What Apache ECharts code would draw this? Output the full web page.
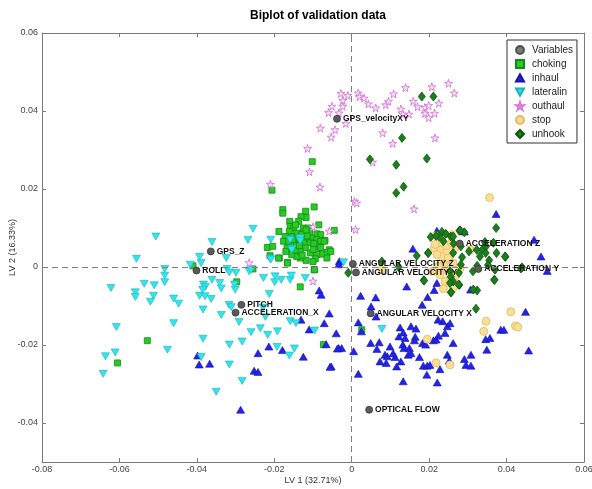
<!DOCTYPE html>
<html><head><meta charset="utf-8">
<script src="https://cdn.jsdelivr.net/npm/echarts@6/dist/echarts.min.js"></script>
<style>html,body{margin:0;padding:0;background:#fff}#c{width:592px;height:489px}</style>
</head><body><div id="c"></div>
<script>
const xTicks = [-0.08,-0.06,-0.04,-0.02,0,0.02,0.04,0.06];
const yTicks = [-0.04,-0.02,0,0.02,0.04,0.06];

const varNames = ['GPS_velocityXY','GPS_Z','ROLL','PITCH','ACCELERATION_X','ANGULAR VELOCITY Z','ANGULAR VELOCITY Y','ANGULAR VELOCITY X','OPTICAL FLOW','ACCELERATION Z','ACCELERATION Y'];
const varX = [-0.0038,-0.0364,-0.0401,-0.0285,-0.0300,0.0003,0.0011,0.0049,0.0045,0.0279,0.0327];
const varY = [0.0380,0.0040,-0.0009,-0.0097,-0.0117,0.0008,-0.0014,-0.0119,-0.0366,0.0060,-0.0005];

const choking = [
[-0.0102,0.0270],[-0.0206,0.0197],[-0.0097,0.0154],[-0.0178,0.0147],[-0.0178,0.0138],[-0.0119,0.0143],[-0.0118,0.0127],[-0.0131,0.0129],[-0.0160,0.0117],[-0.0137,0.0117],[-0.0085,0.0108],[-0.0045,0.0094],[-0.0188,0.0091],[-0.0218,0.0050],[-0.0204,0.0053],
[-0.0159,0.0104],[-0.0150,0.0100],[-0.0125,0.0100],[-0.0112,0.0100],[-0.0161,0.0091],[-0.0142,0.0087],[-0.0126,0.0087],[-0.0109,0.0087],[-0.0090,0.0085],[-0.0080,0.0083],[-0.0172,0.0078],[-0.0155,0.0078],[-0.0138,0.0074],[-0.0120,0.0074],[-0.0103,0.0074],[-0.0090,0.0070],[-0.0069,0.0068],[-0.0176,0.0066],[-0.0163,0.0066],[-0.0149,0.0062],[-0.0125,0.0062],[-0.0107,0.0062],[-0.0080,0.0066],[-0.0071,0.0066],[-0.0058,0.0044],[-0.0064,0.0037],[-0.0077,0.0033],[-0.0090,0.0032],[-0.0094,0.0021],[-0.0100,0.0014],[-0.0118,0.0017],[-0.0133,0.0023],[-0.0142,0.0027],[-0.0155,0.0032],[-0.0166,0.0012],[-0.0187,0.0023],[-0.0120,0.0049],[-0.0133,0.0040],[-0.0146,0.0044],[-0.0107,0.0036],[-0.0142,0.0057],[-0.0167,0.0049],[-0.0097,-0.0007],[-0.0064,0.0023],[-0.0086,0.0051],[-0.0129,0.0083],
[-0.0115,0.0080],[-0.0098,0.0060],[-0.0135,0.0055],[-0.0152,0.0070],[-0.0118,0.0095],[-0.0145,0.0108],[-0.0100,0.0045],[-0.0080,0.0050],[-0.0170,0.0040],[-0.0128,0.0030],
[-0.0410,0.0003],[-0.0255,-0.0005],[-0.0297,-0.0038],[-0.0133,-0.0051],[-0.0096,-0.0007],[-0.0189,0.0023],[-0.0211,0.0029],[-0.0166,0.0010],[-0.0528,-0.0189],[-0.0605,-0.0246],[-0.0073,-0.0199],[0.0026,-0.0161],[-0.0054,0.0040]
];

const inhaul = [
[0.0023,-0.0074],[0.0062,-0.0078],[0.0050,-0.0101],[0.0017,-0.0142],[0.0025,-0.0165],[0.0005,-0.0216],[0.0017,-0.0274],[-0.0034,-0.0208],[-0.0026,-0.0208],[-0.0053,-0.0255],[0.0049,-0.0195],[0.0071,-0.0193],[0.0063,-0.0127],[0.0099,-0.0204],[0.0065,-0.0210],[0.0086,-0.0225],[0.0092,-0.0229],[0.0073,-0.0242],[0.0089,-0.0246],[0.0112,-0.0231],
[0.0125,-0.0155],[0.0122,-0.0178],[0.0133,-0.0168],[0.0138,-0.0182],[0.0132,-0.0199],[0.0135,-0.0208],[0.0153,-0.0152],[0.0166,-0.0158],[0.0164,-0.0179],[0.0162,-0.0188],[0.0149,-0.0208],[0.0146,-0.0225],[0.0153,-0.0221],[0.0175,-0.0231],[0.0183,-0.0195],[0.0191,-0.0199],[0.0211,-0.0188],[0.0218,-0.0186],[0.0224,-0.0176],[0.0241,-0.0169],
[0.0247,-0.0152],[0.0235,-0.0139],[0.0262,-0.0195],[0.0133,-0.0293],[0.0194,-0.0276],[0.0221,-0.0296],[0.0185,-0.0253],[0.0195,-0.0253],[0.0202,-0.0251],[0.0228,-0.0262],[0.0116,-0.0255],[0.0127,-0.0242],[0.0252,-0.0240],[0.0291,-0.0236],[0.0295,-0.0251],[0.0308,-0.0253],[0.0308,-0.0225],[0.0349,-0.0212],[0.0346,-0.0185],[0.0357,-0.0182],
[0.0385,-0.0161],[0.0393,-0.0161],[0.0449,-0.0115],[0.0457,-0.0214],[0.0142,-0.0050],[0.0196,-0.0077],[0.0213,-0.0059],[0.0182,-0.0097],[0.0158,0.0047],[0.0220,-0.0041],[0.0307,-0.0058],[0.0489,0.0027],[0.0471,0.0070],[-0.0032,0.0015],[0.0247,-0.0225],[0.0254,-0.0144],[0.0223,-0.0135],[0.0107,-0.0221],
[0.0373,0.0136],[0.0220,0.0093],[0.0291,0.0091],[0.0505,-0.0010],
[-0.0033,0.0007],[-0.0084,-0.0060],[-0.0079,-0.0071],[-0.0058,-0.0119],[-0.0131,-0.0135],[-0.0071,-0.0144],[-0.0066,-0.0198],[-0.0037,-0.0209],[-0.0056,-0.0256],[-0.0214,-0.0204],[-0.0179,-0.0213],[-0.0242,-0.0221],[-0.0252,-0.0266],[-0.0242,-0.0269],[-0.0398,-0.0227],[-0.0394,-0.0250],[-0.0367,-0.0248],[-0.0287,-0.0366],
[-0.0110,-0.0160],[-0.0125,-0.0230],[-0.0040,-0.0170]
];

const lateralin = [
[-0.0506,0.0078],[-0.0556,0.0021],[-0.0622,-0.0054],[-0.0559,-0.0065],[-0.0559,-0.0077],[-0.0536,-0.0043],[-0.0510,-0.0047],[-0.0520,-0.0089],[-0.0512,-0.0074],[-0.0483,-0.0005],[-0.0483,-0.0022],[-0.0483,-0.0039],[-0.0460,-0.0081],[-0.0447,-0.0094],[-0.0460,-0.0144],[-0.0608,-0.0154],[-0.0611,-0.0219],[-0.0636,-0.0229],[-0.0642,-0.0274],[-0.0476,-0.0212],
[-0.0417,0.0006],[-0.0393,0.0026],[-0.0389,0.0010],[-0.0324,0.0023],[-0.0361,0.0064],[-0.0268,0.0069],[-0.0255,0.0098],[-0.0209,0.0070],[-0.0135,0.0072],[-0.0154,0.0047],[-0.0211,0.0021],[-0.0322,-0.0005],[-0.0316,-0.0014],[-0.0299,-0.0015],[-0.0361,-0.0033],[-0.0341,-0.0041],[-0.0337,-0.0055],[-0.0383,-0.0045],[-0.0378,-0.0051],[-0.0385,-0.0058],
[-0.0393,-0.0074],[-0.0379,-0.0075],[-0.0363,-0.0082],[-0.0384,-0.0109],[-0.0337,-0.0123],[-0.0303,-0.0045],[-0.0301,-0.0058],[-0.0317,-0.0097],[-0.0311,-0.0103],[-0.0291,-0.0141],[-0.0265,-0.0011],[-0.0260,-0.0007],[-0.0228,-0.0028],[-0.0198,-0.0024],[-0.0199,-0.0039],[-0.0182,-0.0033],[-0.0159,-0.0033],[-0.0156,-0.0022],[-0.0120,-0.0028],[-0.0213,-0.0069],
[-0.0229,-0.0104],[-0.0223,-0.0128],[-0.0236,-0.0157],[-0.0217,-0.0174],[-0.0192,-0.0165],[-0.0260,-0.0167],[-0.0283,-0.0191],[-0.0316,-0.0199],[-0.0384,-0.0184],[-0.0389,-0.0231],[-0.0316,-0.0250],[-0.0283,-0.0292],[-0.0350,-0.0320],[-0.0193,-0.0205],[-0.0161,-0.0227],[-0.0148,-0.0209],[-0.0159,-0.0139],[-0.0144,-0.0144],[-0.0096,-0.0163],
[-0.0159,0.0070],[-0.0133,0.0074],[-0.0021,0.0012],[0.0078,-0.0159],[-0.0133,0.0067],[-0.0155,0.0044],[-0.0209,0.0019]
];

const outhaul = [
[-0.0023,0.0427],[-0.0051,0.0412],[-0.0023,0.0412],[-0.0033,0.0395],[-0.0015,0.0368],[-0.0043,0.0352],[-0.0053,0.0333],[0.0017,0.0446],[0.0020,0.0437],[0.0032,0.0433],[0.0043,0.0418],[0.0088,0.0416],[0.0108,0.0444],[0.0139,0.0460],[0.0127,0.0405],[0.0132,0.0392],[0.0148,0.0392],[0.0159,0.0425],[0.0170,0.0411],[0.0189,0.0409],
[0.0199,0.0414],[0.0207,0.0462],[0.0189,0.0394],[0.0199,0.0383],[0.0214,0.0394],[0.0250,0.0471],[0.0265,0.0446],[0.0080,0.0344],[0.0106,0.0317],[0.0215,0.0331],[0.0054,0.0269],[0.0007,0.0168],[0.0013,0.0164],[0.0161,0.0149],[0.0010,0.0096],[-0.0060,0.0396],[-0.0081,0.0356],[-0.0114,0.0304],[-0.0109,0.0244],[-0.0082,0.0205],
[-0.0210,0.0212],[-0.0100,0.0103],[-0.0058,0.0092],[-0.0265,0.0011],[-0.0100,-0.0036],[-0.0010,0.0440],[0.0062,0.0408],[0.0225,0.0420],[0.0095,0.0425],[-0.0028,0.0445]
];

const stop = [
[0.0356,0.0178],[0.0213,0.0049],[0.0226,0.0062],[0.0230,0.0044],[0.0245,0.0053],[0.0258,0.0062],[0.0267,0.0049],[0.0245,0.0036],[0.0233,0.0027],[0.0220,0.0032],[0.0250,0.0019],[0.0237,0.0006],[0.0262,0.0010],[0.0224,0.0002],[0.0207,-0.0011],[0.0245,-0.0007],[0.0228,-0.0020],[0.0254,-0.0020],[0.0267,-0.0024],[0.0241,-0.0037],
[0.0254,-0.0041],[0.0237,-0.0056],[0.0262,-0.0054],[0.0280,-0.0003],[0.0306,0.0044],[0.0218,0.0080],[0.0258,0.0083],[0.0078,-0.0007],[0.0195,-0.0185],[0.0218,-0.0246],[0.0254,-0.0251],[0.0347,-0.0139],[0.0341,-0.0165],[0.0411,-0.0115],[0.0423,-0.0151],[0.0429,-0.0154],[0.0249,0.0023],[0.0216,0.0058]
];

const unhook = [
[0.0181,0.0437],[0.0211,0.0437],[0.0130,0.0331],[0.0047,0.0276],[0.0115,0.0262],[0.0194,0.0278],[0.0134,0.0206],[0.0115,0.0190],[0.0373,0.0100],[0.0233,0.0090],[0.0243,0.0085],[0.0278,0.0093],[0.0291,0.0089],[0.0226,0.0078],[0.0256,0.0078],[0.0237,0.0066],[0.0263,0.0060],[0.0282,0.0053],[0.0303,0.0040],[0.0323,0.0044],
[0.0337,0.0044],[0.0347,0.0053],[0.0346,0.0036],[0.0374,0.0036],[0.0397,0.0026],[0.0331,0.0027],[0.0355,0.0017],[0.0285,0.0025],[0.0262,0.0036],[0.0197,0.0036],[0.0282,0.0006],[0.0324,0.0003],[0.0352,0.0005],[0.0370,-0.0007],[0.0313,-0.0011],[0.0277,-0.0015],[0.0254,-0.0011],[0.0368,-0.0033],[0.0324,-0.0060],[0.0314,-0.0058],
[0.0278,-0.0046],[0.0256,-0.0065],[0.0186,-0.0034],[0.0262,-0.0037],[0.0256,-0.0025],[0.0437,-0.0004],[-0.0009,-0.0015],[0.0078,0.0014],[0.0121,0.0000],[0.0187,-0.0035],[0.0254,-0.0041],[0.0276,-0.0045],[0.0257,-0.0065],[0.0321,-0.0107],[0.0369,-0.0033],[0.0396,0.0027],[0.0440,-0.0001],[0.0168,0.0029],[0.0198,0.0036],[0.0204,0.0077],
[0.0262,0.0078],[0.0280,0.0094],[0.0218,0.0080],[0.0344,0.0064],[0.0366,0.0062]
];

const FONT = 'Liberation Sans, Arial, Helvetica, sans-serif';
const STAR = 'path://M50,0 L61,35 L98,35 L68,57 L79,91 L50,70 L21,91 L32,57 L2,35 L39,35 Z';
const TRI_DOWN = 'path://M0,0 L10,0 L5,9 Z';
const TRI_UP = 'path://M5,0 L10,9 L0,9 Z';

const chart = echarts.init(document.getElementById('c'), null, {renderer: 'canvas'});
const variables = varNames.map((n, i) => ({name: n, value: [varX[i], varY[i]]}));

const axisCommon = {
  axisLine: {show: true, onZero: false, lineStyle: {color: '#7a7a7a', width: 1}},
  splitLine: {show: false},
  axisTick: {show: true, inside: true, length: 4, lineStyle: {color: '#7a7a7a'}},
};
const fmt = v => (Math.abs(v) < 1e-12 ? '0' : String(+v.toFixed(2)));

chart.setOption({
  animation: false,
  backgroundColor: '#fff',
  title: {text: 'Biplot of validation data', left: 313, textAlign: 'center', top: 5,
    textStyle: {fontFamily: FONT, fontSize: 12, fontWeight: 'bold', color: '#000'}},
  grid: {left: 42, right: 8, top: 33, bottom: 27, containLabel: false, outerBoundsMode: 'none'},
  legend: {
    orient: 'vertical', left: 507, top: 40,
    padding: [5, 4, 4, 8], itemGap: 4, itemWidth: 8, itemHeight: 8,
    backgroundColor: '#fff', borderColor: '#333', borderWidth: 1,
    textStyle: {fontFamily: FONT, fontSize: 10, color: '#222', lineHeight: 10, padding: [0, 0, 0, 3]},
    data: ['Variables','choking','inhaul','lateralin','outhaul','stop','unhook']
  },
  xAxis: [
    Object.assign({type: 'value', position: 'bottom', min: -0.08, max: 0.06,
      name: 'LV 1 (32.71%)', nameLocation: 'middle', nameGap: 14, nameMoveOverlap: false,
      nameTextStyle: {fontFamily: FONT, fontSize: 9, color: '#333'},
      axisLabel: {customValues: xTicks, margin: 3, fontFamily: FONT, fontSize: 9, color: '#444', formatter: fmt}}, axisCommon,
      {axisTick: Object.assign({}, axisCommon.axisTick, {customValues: xTicks})}),
    Object.assign({type: 'value', position: 'top', min: -0.08, max: 0.06,
      axisLabel: {show: false}}, axisCommon,
      {axisTick: Object.assign({}, axisCommon.axisTick, {customValues: xTicks})})
  ],
  yAxis: [
    Object.assign({type: 'value', position: 'left', min: -0.05, max: 0.06,
      name: 'LV 2 (16.33%)', nameLocation: 'middle', nameGap: 25, nameMoveOverlap: false,
      nameTextStyle: {fontFamily: FONT, fontSize: 9, color: '#333'},
      axisLabel: {customValues: yTicks, margin: 4, fontFamily: FONT, fontSize: 9, color: '#444', formatter: fmt}}, axisCommon,
      {axisTick: Object.assign({}, axisCommon.axisTick, {customValues: yTicks})}),
    Object.assign({type: 'value', position: 'right', min: -0.05, max: 0.06,
      axisLabel: {show: false}}, axisCommon,
      {axisTick: Object.assign({}, axisCommon.axisTick, {customValues: yTicks})})
  ],
  series: [
    {name: 'Variables', type: 'scatter', data: [], symbol: 'circle', symbolSize: 7,
      itemStyle: {color: '#5a5a5a', borderColor: '#3a3a3a', borderWidth: 0.8}},
    {name: 'choking', type: 'scatter', data: choking, symbol: 'rect', symbolSize: 6, z: 2,
      itemStyle: {color: '#26cc26', borderColor: '#168a16', borderWidth: 0.8, opacity: 1},
      markLine: {silent: true, symbol: ['none','none'], label: {show: false}, animation: false,
        lineStyle: {color: '#808080', type: [6, 4], width: 1},
        data: [{xAxis: 0}, {yAxis: 0}]}},
    {name: 'inhaul', type: 'scatter', data: inhaul, symbol: TRI_UP, symbolSize: [8, 7], z: 2,
      itemStyle: {color: '#2222ee', borderColor: '#1515a0', borderWidth: 0.6, opacity: 1}},
    {name: 'lateralin', type: 'scatter', data: lateralin, symbol: TRI_DOWN, symbolSize: [8, 7], z: 2,
      itemStyle: {color: '#2ee6ee', borderColor: '#1eb0b8', borderWidth: 0.6, opacity: 1}},
    {name: 'outhaul', type: 'scatter', data: outhaul, symbol: STAR, symbolSize: [8, 8], z: 2,
      itemStyle: {color: '#fbe6fb', borderColor: '#d877d8', borderWidth: 0.9, opacity: 1}},
    {name: 'stop', type: 'scatter', data: stop, symbol: 'circle', symbolSize: 8, z: 2,
      itemStyle: {color: '#f9df93', borderColor: '#e2b964', borderWidth: 0.8, opacity: 1}},
    {name: 'unhook', type: 'scatter', data: unhook, symbol: 'diamond', symbolSize: [7, 9], z: 2,
      itemStyle: {color: '#1b7f1b', borderColor: '#0e560e', borderWidth: 0.8, opacity: 1}},
    {name: 'Variables', type: 'scatter', data: variables, symbol: 'circle', symbolSize: 7, z: 5,
      itemStyle: {color: '#5a5a5a', borderColor: '#3a3a3a', borderWidth: 0.8, opacity: 1},
      label: {show: true, position: 'right', distance: 2, formatter: p => p.name,
        fontFamily: FONT, fontSize: 8.5, fontWeight: 'bold', color: '#111'}}
  ]
});
</script>
</body></html>
